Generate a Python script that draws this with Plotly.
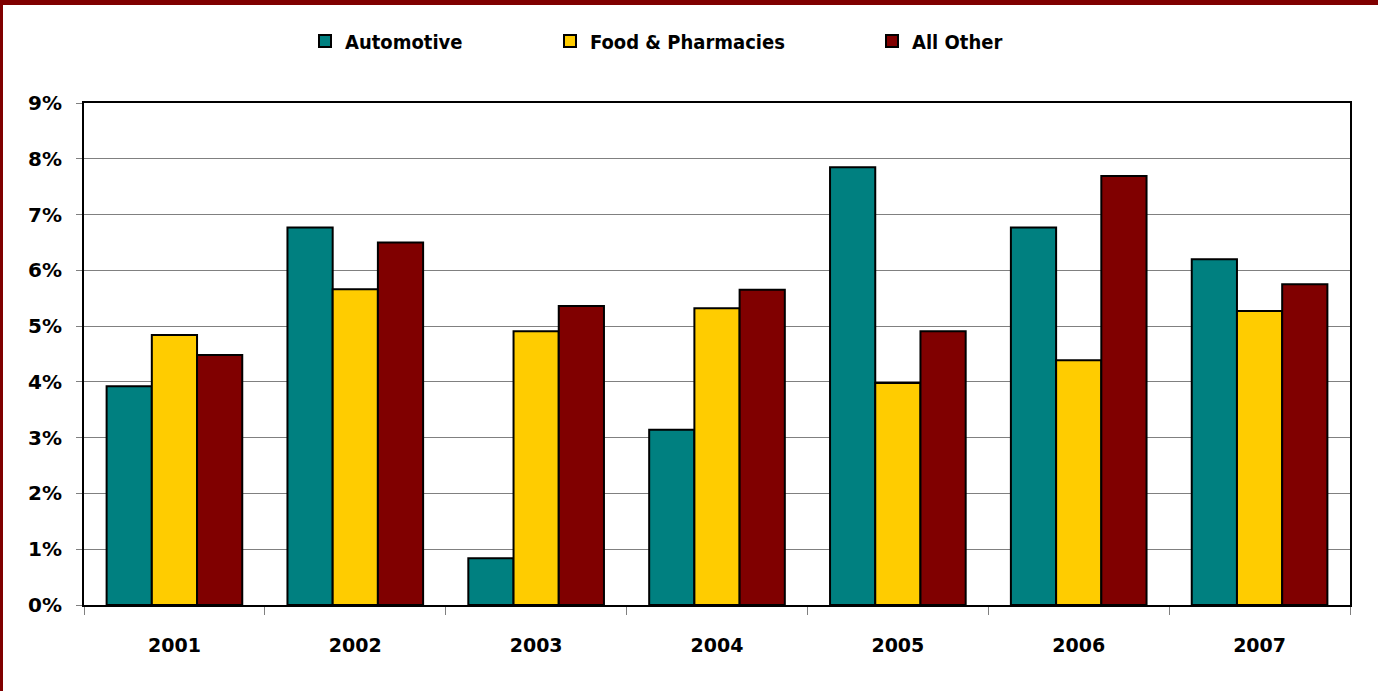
import plotly.graph_objects as go

years = ["2001", "2002", "2003", "2004", "2005", "2006", "2007"]
automotive = [3.92, 6.77, 0.84, 3.14, 7.85, 6.77, 6.20]
food_pharm = [4.84, 5.66, 4.91, 5.32, 3.98, 4.39, 5.27]
all_other = [4.48, 6.50, 5.36, 5.65, 4.91, 7.69, 5.75]
series_names = ["Automotive", "Food & Pharmacies", "All Other"]
colors = ["#008080", "#FFCC00", "#800000"]
y_ticks = [0, 1, 2, 3, 4, 5, 6, 7, 8, 9]
y_tick_labels = [f"{v}%" for v in y_ticks]

W, H = 1378, 691
L, R, T, B = 84, 28, 103, 86
pw, ph = W - L - R, H - T - B

fig = go.Figure()
legend_ids = ["legend", "legend2", "legend3"]
legend_x = [305, 550, 872]
for name, vals, col, lg in zip(series_names, [automotive, food_pharm, all_other], colors, legend_ids):
    fig.add_trace(go.Bar(
        x=years, y=vals, name=name, legend=lg, showlegend=True,
        marker=dict(color=col, line=dict(color="black", width=2)),
    ))

legend_font = dict(family="DejaVu Sans Condensed", size=20, color="black", weight="bold")
legends = {}
for lg, lx in zip(legend_ids, legend_x):
    legends[lg] = dict(
        xref="container", yref="container", x=lx / W, y=1 - 41 / H,
        xanchor="left", yanchor="middle", orientation="h",
        font=legend_font, bgcolor="rgba(0,0,0,0)", itemwidth=30,
    )

def px_x(p):
    return (p - L) / pw

def px_y(p):
    return (H - B - p) / ph

shapes = [
    dict(type="rect", xref="paper", yref="paper", x0=px_x(0), x1=px_x(W), y0=px_y(0), y1=px_y(5),
         fillcolor="#800000", line=dict(width=0), layer="above"),
    dict(type="rect", xref="paper", yref="paper", x0=px_x(0), x1=px_x(3), y0=px_y(0), y1=px_y(H),
         fillcolor="#800000", line=dict(width=0), layer="above"),
]

fig.update_layout(
    width=W, height=H,
    margin=dict(l=L, r=R, t=T, b=B, pad=0),
    paper_bgcolor="white", plot_bgcolor="white",
    barmode="group", bargap=0.25, bargroupgap=0,
    showlegend=True,
    shapes=shapes,
    **legends,
)
fig.update_xaxes(
    showline=True, linecolor="black", linewidth=2, mirror=True,
    ticks="outside", ticklen=8, tickcolor="#808080", tickson="boundaries",
    tickfont=dict(family="DejaVu Sans", size=19, color="black", weight="bold"),
    ticklabelstandoff=22,
    showgrid=False,
)
fig.update_yaxes(
    range=[0, 9], tickvals=y_ticks, ticktext=y_tick_labels,
    showline=True, linecolor="black", linewidth=2, mirror=True,
    ticks="outside", ticklen=6, tickcolor="#808080",
    showgrid=True, gridcolor="#808080", gridwidth=1,
    tickfont=dict(family="DejaVu Sans", size=20, color="black", weight="bold"),
    ticklabelstandoff=10,
    zeroline=False,
)
fig.write_html(
    "out.html",
    config={"displayModeBar": False},
    post_script="document.body.style.margin='0';document.body.style.overflow='hidden';",
)
